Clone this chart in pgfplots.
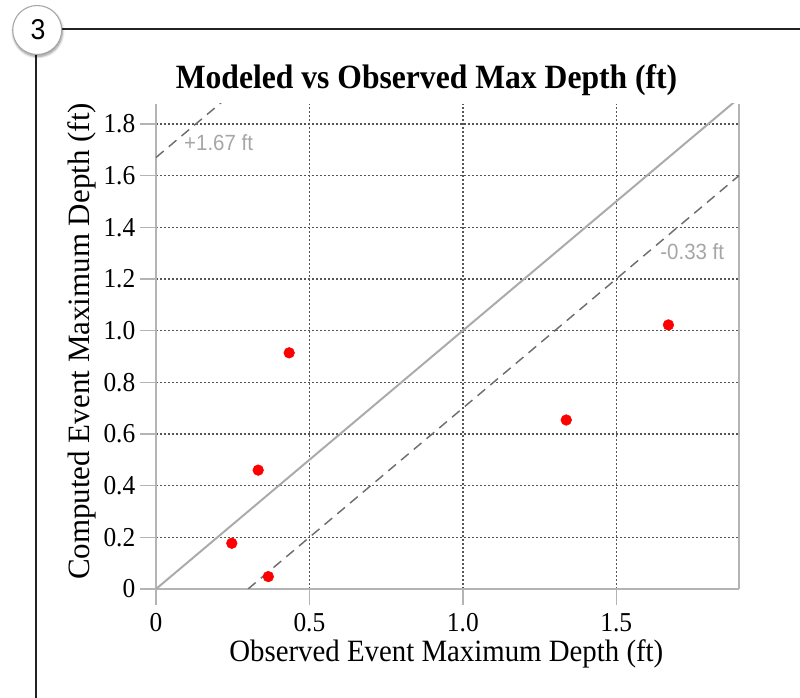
\documentclass[border=0pt]{standalone}
\usepackage{pgfplots}
\pgfplotsset{compat=1.18}
\usepackage{fontspec}
\setmainfont{Liberation Serif}[FakeStretch=0.93]
\newfontfamily\serifplain{Liberation Serif}
\newfontfamily\arial{Liberation Sans}[FakeStretch=0.93]
\usetikzlibrary{shadows.blur}
\definecolor{axgray}{HTML}{B4B4B4}
\definecolor{gridgray}{HTML}{555555}
\definecolor{refgray}{HTML}{ABABAB}
\definecolor{dashgray}{HTML}{6E6E6E}
\definecolor{lblgray}{HTML}{A6A6A6}
\definecolor{framec}{HTML}{222222}
\begin{document}
\begin{tikzpicture}
\useasboundingbox (0,0) rectangle (600pt,523.5pt);
% frame
\draw[framec, line width=1.6pt] (46.5pt,501.5pt) -- (600pt,501.5pt);
\draw[framec, line width=1.6pt] (26.8pt,482pt) -- (26.8pt,0pt);
\node[circle, draw=gray!70, fill=white, line width=0.8pt, minimum size=36.75pt, inner sep=0pt,
      blur shadow={shadow xshift=0.5pt, shadow yshift=-1.5pt, shadow blur steps=6, shadow opacity=45}] at (27.9pt,501pt) {};
\node[font=\arial\fontsize{21.5pt}{24pt}\selectfont, inner sep=0pt] at (28.6pt,501.2pt) {3};
% title
\node[font=\bfseries\fontsize{25.5pt}{30pt}\selectfont] at (319.9pt,463.5pt) {Modeled vs Observed Max Depth (ft)};
\begin{axis}[
  at={(117pt,81.75pt)}, anchor=south west,
  scale only axis, width=437.25pt, height=363.75pt,
  xmin=0, xmax=1.9, ymin=0, ymax=1.877,
  axis x line*=bottom, axis y line*=box,
  axis line style={axgray, line width=1.1pt},
  xtick={0,0.5,1.0,1.5}, xticklabels={0,0.5,1.0,1.5},
  ytick={0,0.2,0.4,0.6,0.8,1.0,1.2,1.4,1.6,1.8},
  yticklabels={0,0.2,0.4,0.6,0.8,1.0,1.2,1.4,1.6,1.8},
  tick align=outside, major tick length=12pt,
  tick style={axgray, line width=1pt},
  ytick pos=left, xtick pos=bottom,
  ticklabel style={font=\fontsize{20.5pt}{24pt}\selectfont},
  xticklabel style={yshift=-3pt},
  grid=major,
  major grid style={gridgray, line width=1.1pt, dash pattern=on 1.5pt off 1.5pt},
  xlabel={Observed Event Maximum Depth (ft)},
  ylabel={Computed Event Maximum Depth (ft)},
  xlabel style={font=\fontsize{23.25pt}{27pt}\selectfont, at={(axis description cs:0.498,-0.1485)}, anchor=base},
  ylabel style={font=\serifplain\fontsize{23.25pt}{27pt}\selectfont, at={(axis description cs:-0.1149,0.5103)}, anchor=base},
  clip=true,
]
\addplot[refgray, line width=1.5pt] coordinates {(0,0) (1.9,1.9)};
\addplot[dashgray, line width=1.1pt, dash pattern=on 7.5pt off 5pt] coordinates {(0,1.67) (0.23,1.9)};
\addplot[dashgray, line width=1.1pt, dash pattern=on 7.5pt off 5pt] coordinates {(0.3,0) (1.9,1.6)};
\addplot[only marks, mark=*, mark size=4pt, color=red, mark options={draw=red, fill=red}] coordinates {
  (0.247,0.177) (0.366,0.048) (0.333,0.46) (0.434,0.914) (1.337,0.654) (1.670,1.022)
};
\node[anchor=west, text=lblgray, font=\arial\fontsize{16.5pt}{19pt}\selectfont, inner sep=0pt] at (axis cs:0.091,1.728) {+1.67 ft};
\node[anchor=west, text=lblgray, font=\arial\fontsize{16.5pt}{19pt}\selectfont, inner sep=0pt] at (axis cs:1.643,1.306) {-0.33 ft};
\end{axis}
\end{tikzpicture}
\end{document}
